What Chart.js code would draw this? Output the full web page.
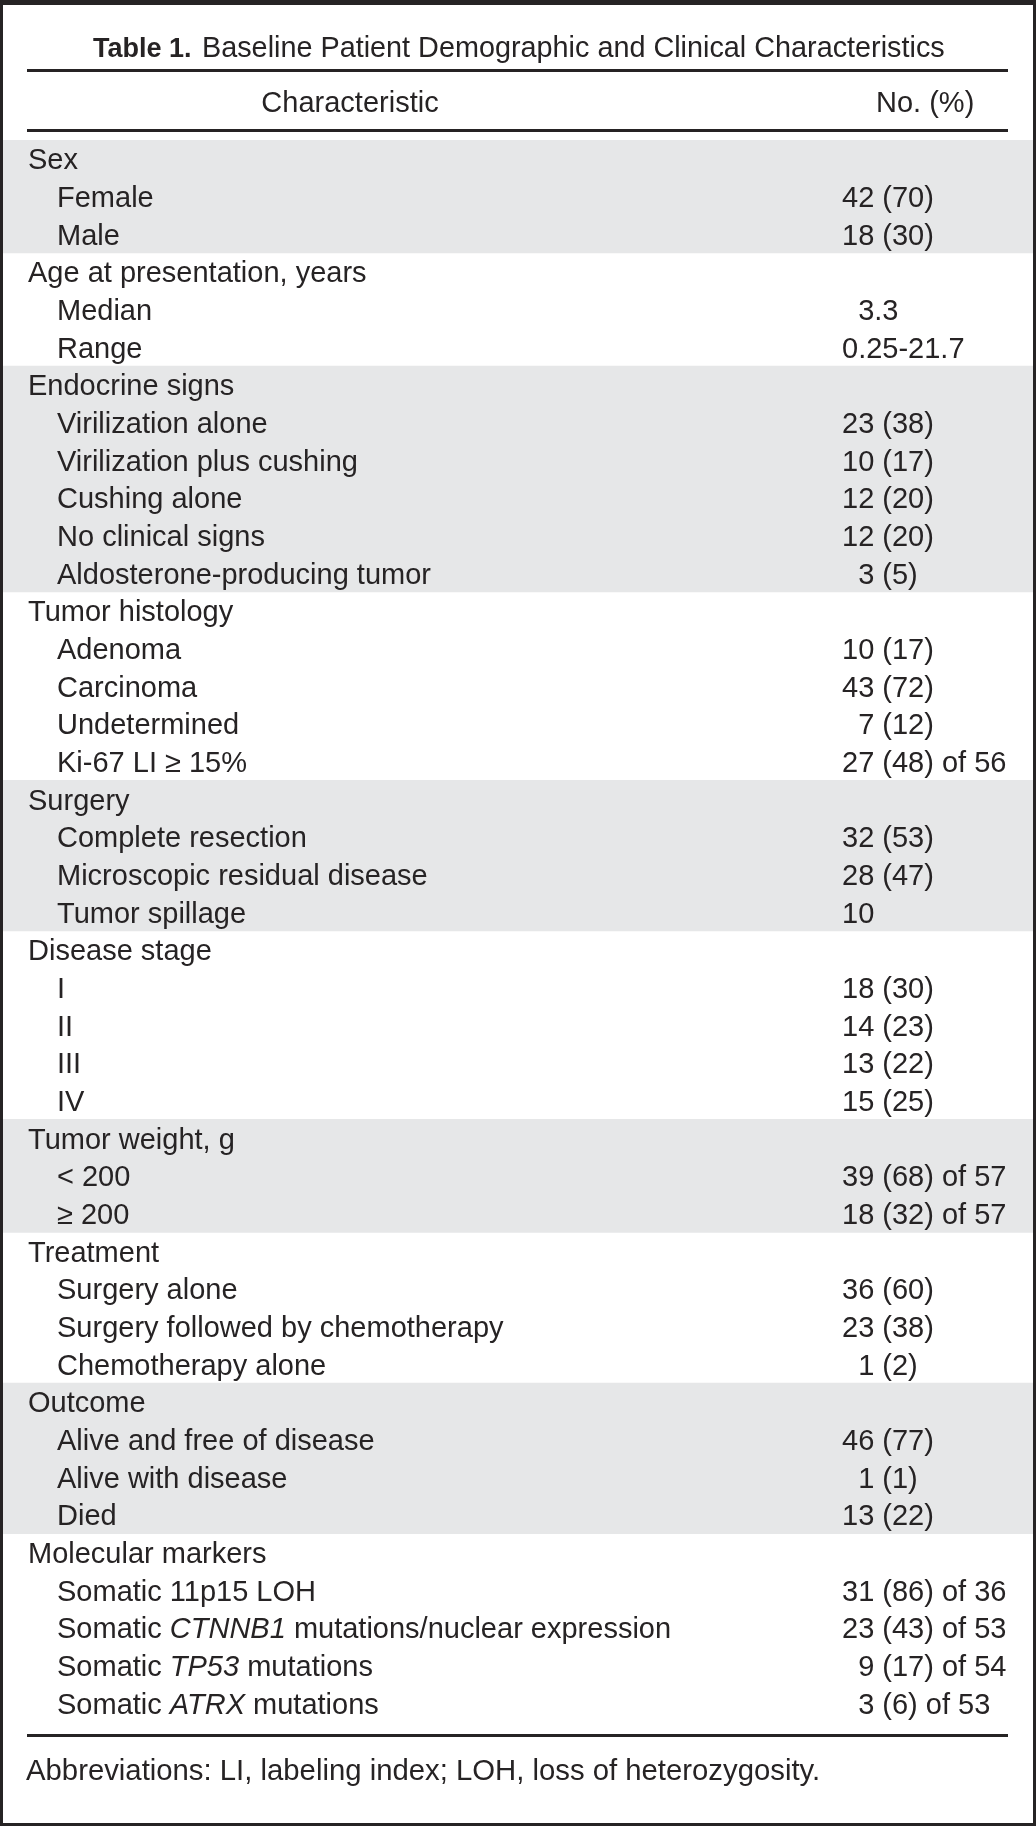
<!DOCTYPE html>
<html>
<head>
<meta charset="utf-8">
<script src="https://cdn.jsdelivr.net/npm/chart.js@4"></script>
<style>
  html, body { margin: 0; padding: 0; background: #fff; }
  canvas { display: block; }
</style>
</head>
<body>
<canvas id="table1" width="1036" height="1826"></canvas>
<script>
const titleBold = 'Table 1.';
const titleText = 'Baseline Patient Demographic and Clinical Characteristics';
const colHeaders = ['Characteristic', 'No. (%)'];
const footnote = 'Abbreviations: LI, labeling index; LOH, loss of heterozygosity.';

// row labels (*...* = italic gene name)
const rowLabels = [
    'Sex', 'Female', 'Male',
    'Age at presentation, years', 'Median', 'Range',
    'Endocrine signs', 'Virilization alone', 'Virilization plus cushing', 'Cushing alone', 'No clinical signs', 'Aldosterone-producing tumor',
    'Tumor histology', 'Adenoma', 'Carcinoma', 'Undetermined', 'Ki-67 LI \u2265 15%',
    'Surgery', 'Complete resection', 'Microscopic residual disease', 'Tumor spillage',
    'Disease stage', 'I', 'II', 'III', 'IV',
    'Tumor weight, g', '< 200', '\u2265 200',
    'Treatment', 'Surgery alone', 'Surgery followed by chemotherapy', 'Chemotherapy alone',
    'Outcome', 'Alive and free of disease', 'Alive with disease', 'Died',
    'Molecular markers', 'Somatic 11p15 LOH', 'Somatic *CTNNB1* mutations/nuclear expression', 'Somatic *TP53* mutations', 'Somatic *ATRX* mutations'
];

// 0 = group heading, 1 = item
const rowLevel = [
    0, 1, 1,
    0, 1, 1,
    0, 1, 1, 1, 1, 1,
    0, 1, 1, 1, 1,
    0, 1, 1, 1,
    0, 1, 1, 1, 1,
    0, 1, 1,
    0, 1, 1, 1,
    0, 1, 1, 1,
    0, 1, 1, 1, 1
];

const rowValues = [
    '', '42 (70)', '18 (30)',
    '', '\u20073.3', '0.25-21.7',
    '', '23 (38)', '10 (17)', '12 (20)', '12 (20)', '\u20073 (5)',
    '', '10 (17)', '43 (72)', '\u20077 (12)', '27 (48) of 56',
    '', '32 (53)', '28 (47)', '10',
    '', '18 (30)', '14 (23)', '13 (22)', '15 (25)',
    '', '39 (68) of 57', '18 (32) of 57',
    '', '36 (60)', '23 (38)', '\u20071 (2)',
    '', '46 (77)', '\u20071 (1)', '13 (22)',
    '', '31 (86) of 36', '23 (43) of 53', '\u20079 (17) of 54', '\u20073 (6) of 53'
];

// every other group gets the grey band, starting with the first
let groupNo = -1;
const shadeData = rowLevel.map(lvl => {
    if (lvl === 0) groupNo++;
    return groupNo % 2 === 0 ? [0, 1] : null;
});

const INK = '#262324';
const BAND = '#e6e7e8';
const FONT = '"Liberation Sans", Arial, Helvetica, sans-serif';
const SIZE = 29;

function drawRich(ctx, text, x, y) {
    const parts = text.split('*');
    parts.forEach((p, i) => {
        ctx.font = (i % 2 ? 'italic ' : '') + SIZE + 'px ' + FONT;
        ctx.fillText(p, x, y);
        x += ctx.measureText(p).width;
    });
}

const tablePlugin = {
    id: 'tablePlugin',
    beforeDraw(chart) {
        const ctx = chart.ctx;
        ctx.save();
        ctx.fillStyle = '#fff';
        ctx.fillRect(0, 0, chart.width, chart.height);
        ctx.restore();
    },
    afterDatasetsDraw(chart) {
        const ctx = chart.ctx;
        const y = chart.scales.y;
        const W = chart.width, H = chart.height;
        ctx.save();
        ctx.fillStyle = INK;
        ctx.textBaseline = 'alphabetic';

        // title
        ctx.font = 'bold 27px ' + FONT;
        ctx.fillText(titleBold, 93, 57);
        ctx.font = '28.8px ' + FONT;
        ctx.fillText(titleText, 202, 57);

        // rules
        ctx.fillRect(27, 69, 981, 3);
        ctx.fillRect(27, 129, 981, 3);
        ctx.fillRect(27, 1734, 981, 3);

        // column headers
        ctx.font = SIZE + 'px ' + FONT;
        ctx.textAlign = 'center';
        ctx.fillText(colHeaders[0], 350, 112);
        ctx.textAlign = 'left';
        ctx.fillText(colHeaders[1], 876, 112);

        // rows
        const off = SIZE * 0.36;
        rowLabels.forEach((lab, i) => {
            const py = y.getPixelForValue(i) + off;
            drawRich(ctx, lab, rowLevel[i] ? 57 : 28, py);
            ctx.font = SIZE + 'px ' + FONT;
            ctx.fillText(rowValues[i], 842, py);
        });

        // footnote
        ctx.font = '29.3px ' + FONT;
        ctx.fillText(footnote, 26, 1780);

        // frame
        ctx.fillRect(0, 0, W, 5);
        ctx.fillRect(0, H - 3, W, 3);
        ctx.fillRect(0, 0, 3, H);
        ctx.fillRect(W - 3, 0, 3, H);
        ctx.restore();
    }
};

new Chart(document.getElementById('table1'), {
    type: 'bar',
    data: {
        labels: rowLabels,
        datasets: [{
            data: shadeData,
            backgroundColor: BAND,
            borderWidth: 0,
            barPercentage: 1,
            categoryPercentage: 1
        }]
    },
    options: {
        indexAxis: 'y',
        responsive: false,
        animation: false,
        devicePixelRatio: 1,
        layout: { padding: { top: 140, bottom: 104, left: 3, right: 3 } },
        scales: {
            x: { display: false, min: 0, max: 1 },
            y: { display: false, offset: true }
        },
        plugins: {
            legend: { display: false },
            tooltip: { enabled: false },
            title: { display: false }
        }
    },
    plugins: [tablePlugin]
});
</script>
</body>
</html>
